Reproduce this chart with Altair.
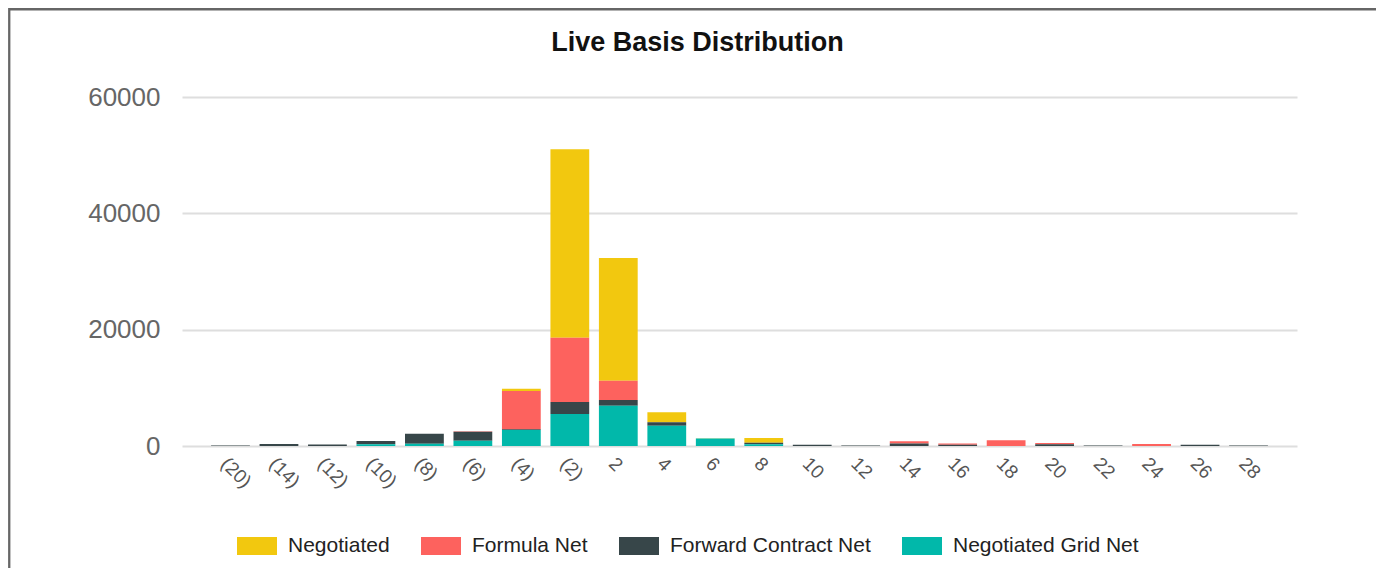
import altair as alt
import pandas as pd

categories = ["(20)", "(14)", "(12)", "(10)", "(8)", "(6)", "(4)", "(2)", "2", "4", "6",
              "8", "10", "12", "14", "16", "18", "20", "22", "24", "26", "28"]
series_names = ["Negotiated", "Formula Net", "Forward Contract Net", "Negotiated Grid Net"]
series_colors = ["#F2C80F", "#FD625E", "#374649", "#01B8AA"]

negotiated = [0, 0, 0, 0, 0, 0, 400, 32400, 21100, 1730, 50, 800, 0, 0, 0, 0, 0, 0, 0, 0, 0, 0]
formula_net = [0, 0, 0, 0, 0, 100, 6550, 11060, 3300, 0, 0, 0, 0, 0, 350, 250, 1000, 200, 0, 350, 0, 0]
forward_contract_net = [100, 350, 250, 550, 1700, 1550, 150, 2060, 1000, 570, 0, 270, 200, 100,
                        450, 200, 0, 300, 100, 0, 200, 100]
negotiated_grid_net = [0, 0, 0, 300, 400, 900, 2750, 5500, 6900, 3500, 1300, 300, 0, 0, 0, 0, 0,
                       0, 0, 0, 0, 0]

y_ticks = [0, 20000, 40000, 60000]

series_values = [negotiated, formula_net, forward_contract_net, negotiated_grid_net]
rows = []
for s_idx, (name, vals) in enumerate(zip(series_names, series_values)):
    for cat, v in zip(categories, vals):
        rows.append({"basis": cat, "type": name, "value": v, "stack": 3 - s_idx})
df = pd.DataFrame(rows)

FONT = "Liberation Sans"

bars = alt.Chart(df).mark_bar().encode(
    x=alt.X("basis:N", sort=categories,
            scale=alt.Scale(paddingInner=0.2, paddingOuter=0.6),
            axis=alt.Axis(title=None, labelAngle=45, labelFontSize=19, labelColor="#555555",
                          labelFont=FONT, ticks=False, domain=False, grid=False,
                          labelPadding=8, labelOverlap=False)),
    y=alt.Y("value:Q", stack="zero",
            scale=alt.Scale(domain=[0, 60000], nice=False),
            axis=alt.Axis(title=None, values=y_ticks, format="d", labelFontSize=26,
                          labelColor="#666666", labelFont=FONT, ticks=False, domain=False,
                          grid=True, gridColor="#dedede", gridWidth=2, labelPadding=22)),
    color=alt.Color("type:N",
                    scale=alt.Scale(domain=series_names, range=series_colors),
                    legend=alt.Legend(title=None, orient="none", legendX=55, legendY=429,
                                      direction="horizontal",
                                      symbolType="M-1,-0.45h2v0.9h-2z", symbolSize=1600,
                                      symbolStrokeWidth=0, labelFontSize=21, labelFont=FONT,
                                      labelColor="#222222", labelOffset=11, columnPadding=31,
                                      labelLimit=400)),
    order=alt.Order("stack:Q", sort="ascending"),
)

frame = alt.Chart(alt.Data(values=[{"f": 1}])).mark_rect(
    fill="transparent", stroke="#666666", strokeWidth=2.3
).encode(
    x=alt.value(-172.75), x2=alt.value(1400),
    y=alt.value(-87.75), y2=alt.value(700),
)

chart = alt.layer(bars, frame).properties(
    width=1115, height=349,
    title=alt.TitleParams("Live Basis Distribution", fontSize=27, font=FONT,
                          fontWeight="bold", color="#111111", dx=-42, dy=53,
                          anchor="middle"),
    autosize=alt.AutoSizeParams(type="none"),
    padding={"left": 174, "top": 89, "right": 79, "bottom": 122},
).configure_view(strokeWidth=0)

chart.save("out.html", embed_options={"renderer": "svg", "actions": False})
